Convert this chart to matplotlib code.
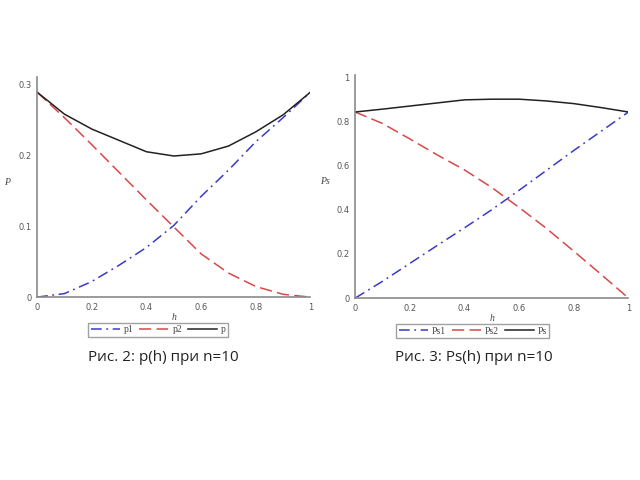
import matplotlib.pyplot as plt

h = [0, 0.1, 0.2, 0.3, 0.4, 0.5, 0.6, 0.7, 0.8, 0.9, 1.0]

# рис. 2
p1 = [0, 0.005, 0.022, 0.045, 0.07, 0.101, 0.142, 0.179, 0.219, 0.253, 0.289]
p2 = [0.289, 0.253, 0.215, 0.176, 0.137, 0.099, 0.061, 0.034, 0.015, 0.004, 0]
p = [0.289, 0.258, 0.237, 0.221, 0.205, 0.199, 0.202, 0.213, 0.233, 0.257, 0.289]

# рис. 3
ps1 = [0, 0.076, 0.157, 0.238, 0.318, 0.40, 0.488, 0.578, 0.668, 0.755, 0.842]
ps2 = [0.842, 0.79, 0.72, 0.648, 0.58, 0.50, 0.41, 0.315, 0.212, 0.107, 0]
ps = [0.842, 0.855, 0.869, 0.883, 0.897, 0.900, 0.900, 0.892, 0.880, 0.862, 0.842]

blue = '#3a3ac8'
red = '#d84848'
grey = '#8a8a8a'
serif = ['Liberation Serif', 'DejaVu Serif']

fig = plt.figure(figsize=(6.4, 4.8), dpi=100)


def draw(ax, y1, y2, y, names, ylab, ytop, yticks, ytl, legx):
    ax.plot(h, y1, color=blue, lw=1.1, dashes=[7, 3, 1.2, 3], label=names[0])
    ax.plot(h, y2, color=red, lw=1.1, dashes=[8, 3.5], label=names[1])
    ax.plot(h, y, color='#222222', lw=1.1, label=names[2])
    ax.set_xlim(0, 1)
    ax.set_ylim(0, ytop)
    ax.set_xticks([0, 0.2, 0.4, 0.6, 0.8, 1])
    ax.set_xticklabels(['0', '0.2', '0.4', '0.6', '0.8', '1'])
    ax.set_yticks(yticks)
    ax.set_yticklabels(ytl)
    ax.tick_params(length=0, labelsize=6, colors='#555555', pad=4)
    for s in ['top', 'right']:
        ax.spines[s].set_visible(False)
    for s in ['left', 'bottom']:
        ax.spines[s].set_color(grey)
        ax.spines[s].set_linewidth(1.2)
    ax.set_xlabel('h', fontsize=7, family=serif, style='italic', color='#444444', labelpad=1)
    ax.set_ylabel(ylab, fontsize=7, family=serif, style='italic', color='#444444',
                  rotation=0, labelpad=8)
    leg = ax.legend(loc='upper center', bbox_to_anchor=(legx, -0.118), ncol=3,
                    prop={'family': serif, 'size': 7}, frameon=True, fancybox=False,
                    handlelength=3.0, handletextpad=0.4, columnspacing=0.6,
                    borderpad=0.25, borderaxespad=0)
    leg.get_frame().set_edgecolor(grey)
    leg.get_frame().set_linewidth(1.0)
    for t in leg.get_texts():
        t.set_color('#444444')


ax1 = fig.add_axes([0.058, 0.381, 0.427, 0.458])
draw(ax1, p1, p2, p, ['p1', 'p2', 'p'], 'P', 0.31,
     [0, 0.1, 0.2, 0.3], ['0', '0.1', '0.2', '0.3'], 0.443)

ax2 = fig.add_axes([0.555, 0.379, 0.427, 0.465])
draw(ax2, ps1, ps2, ps, ['Ps1', 'Ps2', 'Ps'], 'Ps', 1.01,
     [0, 0.2, 0.4, 0.6, 0.8, 1], ['0', '0.2', '0.4', '0.6', '0.8', '1'], 0.43)

fig.text(0.255, 0.255, 'Рис. 2: p(h) при n=10', ha='center', va='center',
         fontsize=11, family='Open Sans', color='#222222')
fig.text(0.741, 0.255, 'Рис. 3: Ps(h) при n=10', ha='center', va='center',
         fontsize=11, family='Open Sans', color='#222222')

fig.savefig('out.png', dpi=100)
